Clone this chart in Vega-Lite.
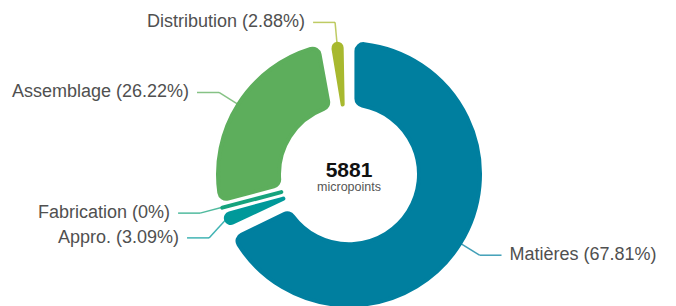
{
  "$schema": "https://vega.github.io/schema/vega-lite/v6.json",
  "width": 676,
  "height": 306,
  "autosize": {"type": "fit", "contains": "padding"},
  "padding": 0,
  "background": "white",
  "config": {"view": {"stroke": null}, "axis": {"disable": true}},
  "data": {
    "values": [
      {"category": "Matières", "value": 3987.9},
      {"category": "Appro.", "value": 181.7},
      {"category": "Fabrication", "value": 0},
      {"category": "Assemblage", "value": 1542.0},
      {"category": "Distribution", "value": 169.4}
    ]
  },
  "transform": [
    {"window": [{"op": "row_number", "as": "idx"}]},
    {"joinaggregate": [{"op": "sum", "field": "value", "as": "total"}]},
    {"window": [{"op": "sum", "field": "value", "as": "cum"}], "sort": [{"field": "idx"}], "frame": [null, 0]},
    {"calculate": "(datum.cum - datum.value / 2) / datum.total * 2 * PI", "as": "mid"},
    {"calculate": "sin(datum.mid) < 0 ? -1 : 1", "as": "side"},
    {"calculate": "-154 * cos(datum.mid)", "as": "ry"},
    {"window": [{"op": "lag", "field": "ry", "as": "prev"}], "groupby": ["side"], "sort": [{"field": "ry"}]},
    {"calculate": "datum.prev == null ? datum.ry : max(datum.ry, datum.prev + 25)", "as": "ly"},
    {"calculate": "datum.side * sqrt(max(0, 154 * 154 - datum.ly * datum.ly))", "as": "ex"},
    {"calculate": "131 * sin(datum.mid)", "as": "x0"},
    {"calculate": "-131 * cos(datum.mid)", "as": "y0"},
    {"calculate": "datum.ex + datum.side * 22", "as": "hx"},
    {"calculate": "datum.hx + datum.side * 8", "as": "tx"},
    {"calculate": "datum.category + ' (' + format(datum.value / datum.total * 100, '.2~f') + '%)'", "as": "label"}
  ],
  "layer": [
    {
      "mark": {"type": "arc", "outerRadius": 131, "innerRadius": 70, "padAngle": 0.1, "cornerRadius": 7, "strokeWidth": 4, "strokeJoin": "round", "strokeCap": "round"},
      "encoding": {
        "x": {"datum": 0, "type": "quantitative", "scale": {"domain": [-349, 327]}},
        "y": {"datum": 0, "type": "quantitative", "scale": {"domain": [130, -176]}},
        "theta": {"field": "value", "type": "quantitative", "stack": true},
        "order": {"field": "idx", "type": "quantitative"},
        "color": {"field": "category", "type": "nominal", "legend": null,
          "scale": {"domain": ["Matières", "Appro.", "Fabrication", "Assemblage", "Distribution"], "range": ["#007f9f", "#00999a", "#16a37d", "#5dae5c", "#a8b92f"]}},
        "stroke": {"field": "category", "type": "nominal", "legend": null,
          "scale": {"domain": ["Matières", "Appro.", "Fabrication", "Assemblage", "Distribution"], "range": ["#007f9f", "#00999a", "#16a37d", "#5dae5c", "#a8b92f"]}}
      }
    },
    {
      "mark": {"type": "rule", "strokeWidth": 1.5, "opacity": 0.75},
      "encoding": {
        "x": {"field": "x0", "type": "quantitative", "scale": {"domain": [-349, 327]}},
        "y": {"field": "y0", "type": "quantitative", "scale": {"domain": [130, -176]}},
        "x2": {"field": "ex"},
        "y2": {"field": "ly"},
        "color": {"field": "category", "type": "nominal", "legend": null}
      }
    },
    {
      "mark": {"type": "rule", "strokeWidth": 1.5, "opacity": 0.75},
      "encoding": {
        "x": {"field": "ex", "type": "quantitative", "scale": {"domain": [-349, 327]}},
        "y": {"field": "ly", "type": "quantitative", "scale": {"domain": [130, -176]}},
        "x2": {"field": "hx"},
        "y2": {"field": "ly"},
        "color": {"field": "category", "type": "nominal", "legend": null}
      }
    },
    {
      "transform": [{"filter": "datum.side < 0"}],
      "mark": {"type": "text", "align": "right", "baseline": "middle", "font": "Liberation Sans", "fontSize": 18, "color": "#505050"},
      "encoding": {
        "x": {"field": "tx", "type": "quantitative", "scale": {"domain": [-349, 327]}},
        "y": {"field": "ly", "type": "quantitative", "scale": {"domain": [130, -176]}},
        "text": {"field": "label"}
      }
    },
    {
      "transform": [{"filter": "datum.side > 0"}],
      "mark": {"type": "text", "align": "left", "baseline": "middle", "font": "Liberation Sans", "fontSize": 18, "color": "#505050"},
      "encoding": {
        "x": {"field": "tx", "type": "quantitative", "scale": {"domain": [-349, 327]}},
        "y": {"field": "ly", "type": "quantitative", "scale": {"domain": [130, -176]}},
        "text": {"field": "label"}
      }
    },
    {
      "transform": [{"aggregate": [{"op": "sum", "field": "value", "as": "sum"}]}],
      "mark": {"type": "text", "align": "center", "baseline": "middle", "font": "Liberation Sans", "fontSize": 21, "fontWeight": "bold", "color": "#111"},
      "encoding": {
        "x": {"datum": 0, "type": "quantitative", "scale": {"domain": [-349, 327]}},
        "y": {"datum": -3, "type": "quantitative", "scale": {"domain": [130, -176]}},
        "text": {"field": "sum", "type": "quantitative", "format": ".0f"}
      }
    },
    {
      "transform": [{"aggregate": [{"op": "count", "as": "n"}]}],
      "mark": {"type": "text", "align": "center", "baseline": "middle", "font": "Liberation Sans", "fontSize": 12.5, "color": "#555"},
      "encoding": {
        "x": {"datum": 0, "type": "quantitative", "scale": {"domain": [-349, 327]}},
        "y": {"datum": 13, "type": "quantitative", "scale": {"domain": [130, -176]}},
        "text": {"value": "micropoints"}
      }
    }
  ]
}
